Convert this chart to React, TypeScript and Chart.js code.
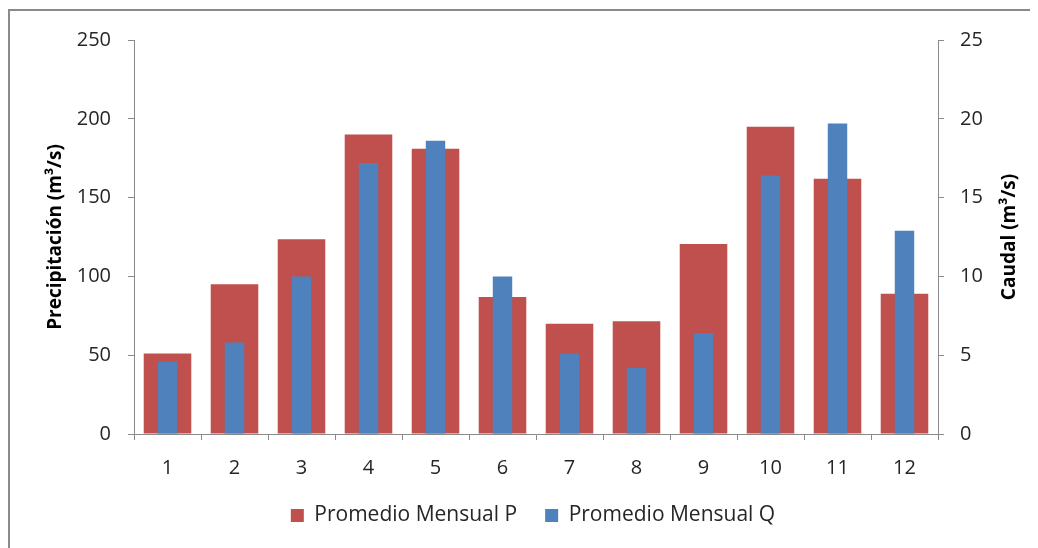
import React, { useEffect, useRef } from "react";
import { Chart, registerables } from "chart.js";

Chart.register(...registerables);

const months = ["1", "2", "3", "4", "5", "6", "7", "8", "9", "10", "11", "12"];
const precipitacion = [51, 95, 123.5, 190, 181, 87, 70, 71.5, 120.5, 195, 162, 89];
const caudal = [4.6, 5.8, 10, 17.2, 18.6, 10, 5.1, 4.2, 6.4, 16.4, 19.7, 12.9];
const leftTitle = "Precipitación (m³/s)";
const rightTitle = "Caudal (m³/s)";
const seriesP = "Promedio Mensual P";
const seriesQ = "Promedio Mensual Q";

const FONT = "'Open Sans', 'Noto Sans', sans-serif";
const AXIS = "#8a8a8a";
const TEXT = "#262626";

const rightTitlePlugin = {
  id: "rightTitle",
  afterDraw(chart: any) {
    const s = chart.scales.y1;
    if (!s) return;
    const ctx = chart.ctx;
    ctx.save();
    ctx.translate(chart.width - 28, (s.top + s.bottom) / 2);
    ctx.rotate(-Math.PI / 2);
    ctx.font = `bold 19px ${FONT}`;
    ctx.fillStyle = "#000";
    ctx.textAlign = "center";
    ctx.textBaseline = "middle";
    ctx.fillText(rightTitle, 0, 0);
    ctx.restore();
  },
};

export default function App() {
  const ref = useRef<HTMLCanvasElement>(null);

  useEffect(() => {
    document.documentElement.style.overflow = "hidden";
    document.body.style.overflow = "hidden";
    const chart = new Chart(ref.current as HTMLCanvasElement, {
      type: "bar",
      data: {
        labels: months,
        datasets: [
          {
            label: seriesP,
            data: precipitacion,
            backgroundColor: "#C0504D",
            yAxisID: "y",
            grouped: false,
            order: 2,
            barPercentage: 0.71,
            categoryPercentage: 1,
          },
          {
            label: seriesQ,
            data: caudal,
            backgroundColor: "#4F81BD",
            yAxisID: "y1",
            grouped: false,
            order: 1,
            barPercentage: 0.29,
            categoryPercentage: 1,
          },
        ],
      },
      options: {
        responsive: false,
        animation: false,
        layout: { padding: { top: 27, left: 31, right: 13, bottom: 12 } },
        plugins: {
          tooltip: { enabled: false },
          legend: {
            position: "bottom",
            labels: {
              boxWidth: 13,
              boxHeight: 13,
              padding: 28,
              color: TEXT,
              font: { family: FONT, size: 21 },
              sort: (a: any, b: any) => a.datasetIndex - b.datasetIndex,
            },
          },
        },
        scales: {
          x: {
            afterFit: (s: any) => {
              s.height = 43;
            },
            grid: {
              display: true,
              offset: true,
              drawOnChartArea: false,
              drawTicks: true,
              tickLength: 6,
              color: AXIS,
            },
            border: { display: true, color: AXIS },
            ticks: { color: TEXT, padding: 16, font: { family: FONT, size: 20 } },
          },
          y: {
            position: "left",
            min: 0,
            max: 250,
            afterFit: (s: any) => {
              s.width = 93;
            },
            ticks: { stepSize: 50, color: TEXT, padding: 17, font: { family: FONT, size: 20 } },
            grid: {
              display: true,
              drawOnChartArea: false,
              drawTicks: true,
              tickLength: 6,
              color: AXIS,
            },
            border: { display: true, color: AXIS },
            title: {
              display: true,
              text: leftTitle,
              color: "#000",
              padding: { top: 3, bottom: 0 },
              font: { family: FONT, size: 19, weight: "bold" },
            },
          },
          y1: {
            position: "right",
            min: 0,
            max: 25,
            afterFit: (s: any) => {
              s.width = 87;
            },
            ticks: { stepSize: 5, color: TEXT, padding: 16, font: { family: FONT, size: 20 } },
            grid: {
              display: true,
              drawOnChartArea: false,
              drawTicks: true,
              tickLength: 6,
              color: AXIS,
            },
            border: { display: true, color: AXIS },
          },
        },
      },
      plugins: [rightTitlePlugin],
    } as any);
    return () => chart.destroy();
  }, []);

  return (
    <div
      style={{
        marginTop: 1,
        border: `2px solid ${AXIS}`,
        width: 1040,
        height: 560,
        fontFamily: FONT,
      }}
    >
      <canvas ref={ref} width={1028} height={537} style={{ display: "block" }} />
    </div>
  );
}
